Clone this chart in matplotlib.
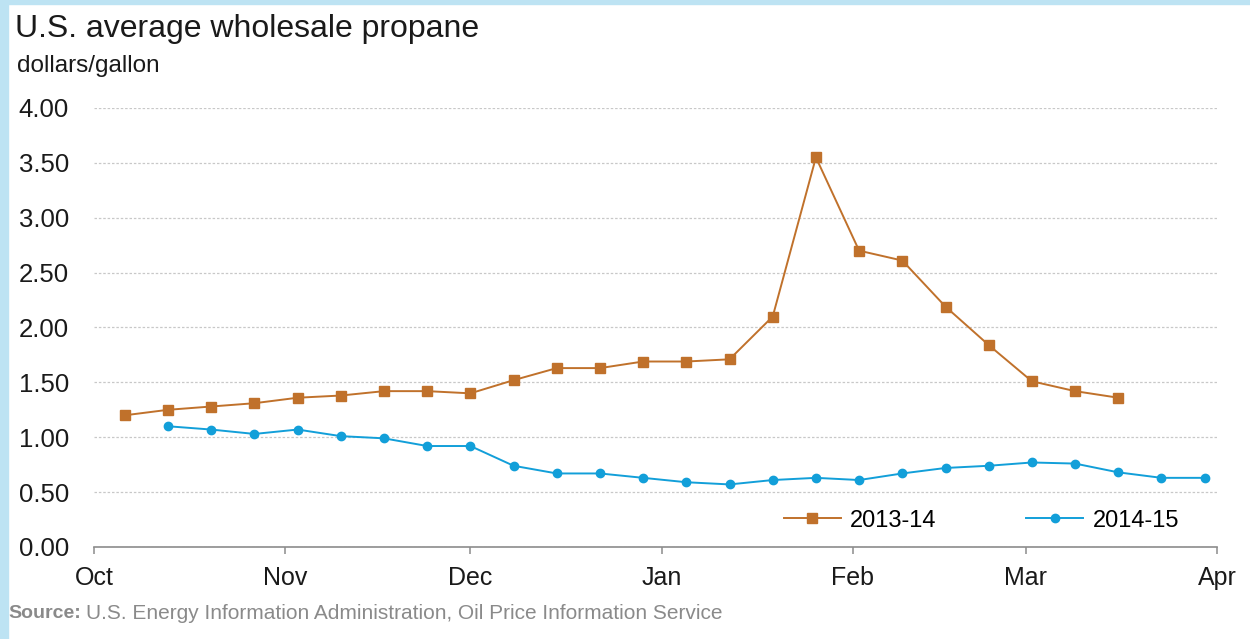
import numpy as np
import pandas as pd
import matplotlib
matplotlib.use("Agg")
import matplotlib.pyplot as plt
from matplotlib.patches import Rectangle

plt.rcParams['font.family'] = ['Liberation Sans', 'DejaVu Sans']

# weekly prices, dollars/gallon
weeks_1314 = pd.date_range('2013-10-06', periods=24, freq='7D')
price_1314 = [1.20, 1.25, 1.28, 1.31, 1.36, 1.38, 1.42, 1.42, 1.40, 1.52,
              1.63, 1.63, 1.69, 1.69, 1.71, 2.10, 3.55, 2.70, 2.61, 2.19,
              1.84, 1.51, 1.42, 1.36]

weeks_1415 = pd.date_range('2014-10-13', periods=25, freq='7D')
price_1415 = [1.10, 1.07, 1.03, 1.07, 1.01, 0.99, 0.92, 0.92, 0.74, 0.67,
              0.67, 0.63, 0.59, 0.57, 0.61, 0.63, 0.61, 0.67, 0.72, 0.74,
              0.77, 0.76, 0.68, 0.63, 0.63]

month_labels = ['Oct', 'Nov', 'Dec', 'Jan', 'Feb', 'Mar', 'Apr']
month_starts = pd.date_range('2014-10-01', periods=7, freq='MS')

orange = '#C0712B'
blue = '#129FD9'


def season_day(dates, start):
    # days since Oct 1 of the season
    return (dates - pd.Timestamp(start)).days


fig = plt.figure(figsize=(12.5, 6.39), dpi=100)
ax = fig.add_axes([0.0752, 0.144, 0.8984, 0.687])

x_month = season_day(month_starts, '2014-10-01')

ax.plot(season_day(weeks_1314, '2013-10-01'), price_1314, color=orange,
        lw=1.4, marker='s', ms=6.5, mec=orange, mfc=orange, label='2013-14')
ax.plot(season_day(weeks_1415, '2014-10-01'), price_1415, color=blue,
        lw=1.4, marker='o', ms=6, mec=blue, mfc=blue, label='2014-15')

ax.set_xlim(x_month[0], x_month[-1])
ax.set_ylim(0, 4.0)
ax.set_yticks(np.arange(0, 4.01, 0.5))
ax.set_yticklabels(['%.2f' % v for v in np.arange(0, 4.01, 0.5)])
ax.set_xticks(x_month)
ax.set_xticklabels(month_labels)

ax.grid(axis='y', color='#C8C8C8', linestyle=(0, (2, 1.5)), lw=0.9)
ax.set_axisbelow(True)
for side in ['top', 'right', 'left']:
    ax.spines[side].set_visible(False)
ax.spines['bottom'].set_color('#8C8C8C')
ax.spines['bottom'].set_linewidth(1.2)
ax.tick_params(axis='y', length=0, pad=18, labelsize=18.5, colors='#1a1a1a')
ax.tick_params(axis='x', direction='out', length=5, width=1.1, color='#8C8C8C',
               pad=9, labelsize=18, labelcolor='#1a1a1a')

ax.legend(loc='center right', bbox_to_anchor=(0.985, 0.06), ncol=2,
          frameon=False, fontsize=17, handlelength=2.4, columnspacing=3.8,
          handletextpad=0.4)

fig.text(0.012, 0.955, 'U.S. average wholesale propane', fontsize=23,
         va='center', ha='left', color='#1a1a1a')
fig.text(0.014, 0.897, 'dollars/gallon', fontsize=17.5, va='center',
         ha='left', color='#1a1a1a')
fig.text(0.0065, 0.04, 'Source:', fontsize=14, fontweight='bold',
         va='center', ha='left', color='#8a8a8a')
fig.text(0.0685, 0.04, 'U.S. Energy Information Administration, Oil Price Information Service',
         fontsize=15, va='center', ha='left', color='#8a8a8a')

# light blue frame on the left and top edges
fig.patches.append(Rectangle((0, 0), 0.0065, 1, transform=fig.transFigure,
                             color='#BDE3F3', zorder=0))
fig.patches.append(Rectangle((0, 0.994), 1, 0.006, transform=fig.transFigure,
                             color='#BDE3F3', zorder=0))

fig.savefig('out.png', dpi=100)
